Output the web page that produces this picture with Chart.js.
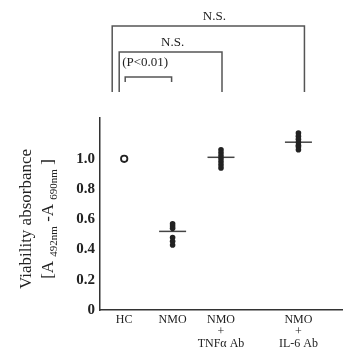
<!DOCTYPE html>
<html>
<head>
<meta charset="utf-8">
<script src="https://cdn.jsdelivr.net/npm/chart.js@4/dist/chart.umd.min.js"></script>
<style>
  html, body { margin: 0; padding: 0; background: #ffffff; overflow: hidden; }
  canvas { display: block; }
</style>
</head>
<body>
<canvas id="c" width="345" height="354" style="width:345px;height:354px"></canvas>
<script>
// ---- data ----
const categories = ['HC', 'NMO', 'NMO+TNFα Ab', 'NMO+IL-6 Ab'];
const categoryLabels = [['HC'], ['NMO'], ['NMO', '+', 'TNFα Ab'], ['NMO', '+', 'IL-6 Ab']];
const categoryX = [1, 3, 5, 8.2];
const hcValues = [1.0];
const nmoValues = [0.57, 0.555, 0.54, 0.48, 0.455, 0.43];
const tnfValues = [1.06, 1.04, 1.02, 1.0, 0.98, 0.96, 0.94];
const il6Values = [1.17, 1.15, 1.13, 1.11, 1.09, 1.08, 1.06];
const meanValues = [null, 0.52, 1.01, 1.11];
const yTickValues = [0, 0.2, 0.4, 0.6, 0.8, 1.0];
const yTickLabels = ['0', '0.2', '0.4', '0.6', '0.8', '1.0'];
const sigLabels = ['N.S.', 'N.S.', '(P<0.01)'];

const pts = (xi, vals) => vals.map(v => ({ x: categoryX[xi], y: v }));
const meanPts = meanValues.map((v, i) => v == null ? null : { x: categoryX[i], y: v }).filter(p => p);

const SERIF = '"Liberation Serif", "DejaVu Serif", serif';

const bracketPlugin = {
  id: 'brackets',
  afterDraw(chart) {
    const ctx = chart.ctx;
    const xs = chart.scales.x;
    const px = i => xs.getPixelForValue(categoryX[i]);
    const top = chart.chartArea.top;
    ctx.save();
    ctx.strokeStyle = '#555';
    ctx.lineWidth = 1.5;
    ctx.fillStyle = '#222';
    ctx.textAlign = 'center';
    ctx.textBaseline = 'middle';
    const bracket = (x1, x2, yTop, yBot) => {
      ctx.beginPath();
      ctx.moveTo(x1, yBot); ctx.lineTo(x1, yTop); ctx.lineTo(x2, yTop); ctx.lineTo(x2, yBot);
      ctx.stroke();
    };
    bracket(px(0) - 12, px(3) + 6, top - 92, top - 26);
    bracket(px(0) - 5, px(2) + 1, top - 66, top - 26);
    bracket(px(0) + 1, px(1) - 1, top - 41, top - 36);
    ctx.font = '13px ' + SERIF;
    ctx.fillText(sigLabels[0], (px(0) + px(3)) / 2 + 3, top - 101);
    ctx.fillText(sigLabels[1], (px(0) + px(2)) / 2, top - 75);
    ctx.textAlign = 'left';
    ctx.fillText(sigLabels[2], px(0) - 2, top - 55);
    ctx.restore();
  }
};

const yTitlePlugin = {
  id: 'ytitle',
  afterDraw(chart) {
    const ctx = chart.ctx;
    const cy = 219;
    ctx.save();
    ctx.fillStyle = '#222';
    ctx.save();
    ctx.translate(27, cy);
    ctx.rotate(-Math.PI / 2);
    ctx.font = '17px ' + SERIF;
    ctx.textAlign = 'center';
    ctx.textBaseline = 'middle';
    ctx.fillText('Viability absorbance', 0, 0);
    ctx.restore();
    const segs = [
      { t: '[A ', sub: false }, { t: '492nm', sub: true },
      { t: ' -A ', sub: false }, { t: '690nm', sub: true }, { t: ' ]', sub: false }
    ];
    const bigF = '17px ' + SERIF, smallF = '11px ' + SERIF;
    let total = 0;
    segs.forEach(s => { ctx.font = s.sub ? smallF : bigF; s.w = ctx.measureText(s.t).width; total += s.w; });
    ctx.save();
    ctx.translate(49, cy);
    ctx.rotate(-Math.PI / 2);
    ctx.textAlign = 'left';
    ctx.textBaseline = 'middle';
    let x = -total / 2;
    segs.forEach(s => {
      ctx.font = s.sub ? smallF : bigF;
      ctx.fillText(s.t, x, s.sub ? 5 : 0);
      x += s.w;
    });
    ctx.restore();
    ctx.restore();
  }
};

new Chart(document.getElementById('c'), {
  type: 'scatter',
  data: {
    datasets: [
      { label: categories[0], data: pts(0, hcValues), pointStyle: 'circle', pointRadius: 3.2,
        backgroundColor: '#ffffff', borderColor: '#222', borderWidth: 1.8 },
      { label: categories[1], data: pts(1, nmoValues), pointRadius: 2.8,
        backgroundColor: '#222', borderColor: '#222', borderWidth: 0 },
      { label: categories[2], data: pts(2, tnfValues), pointRadius: 2.8,
        backgroundColor: '#222', borderColor: '#222', borderWidth: 0 },
      { label: categories[3], data: pts(3, il6Values), pointRadius: 2.8,
        backgroundColor: '#222', borderColor: '#222', borderWidth: 0 },
      { label: 'mean', data: meanPts, pointStyle: 'line', pointRadius: 13.5,
        borderColor: '#444', borderWidth: 1.5, backgroundColor: '#444' }
    ]
  },
  options: {
    responsive: false,
    maintainAspectRatio: false,
    devicePixelRatio: 1,
    animation: false,
    events: [],
    layout: { autoPadding: false, padding: { top: 118, right: 3, left: 0, bottom: 0 } },
    plugins: { legend: { display: false }, tooltip: { enabled: false }, title: { display: false } },
    scales: {
      x: {
        type: 'linear', min: 0, max: 10,
        afterFit: s => { s.height = 44; s.paddingLeft = 0; s.paddingRight = 0; },
        afterBuildTicks: s => { s.ticks = categoryX.map(v => ({ value: v })); },
        grid: { display: true, drawOnChartArea: false, drawTicks: false },
        border: { display: true, color: '#333', width: 1.5 },
        ticks: {
          autoSkip: false, maxRotation: 0, padding: 4, color: '#222',
          font: { family: SERIF, size: 12, lineHeight: 1.0 },
          callback: (v) => { const i = categoryX.indexOf(v); return i >= 0 ? categoryLabels[i] : ''; }
        }
      },
      y: {
        type: 'linear', min: 0, max: 1.27,
        afterFit: s => { s.width = 100; s.paddingTop = 0; s.paddingBottom = 0; },
        afterBuildTicks: s => { s.ticks = yTickValues.map(v => ({ value: v })); },
        grid: { display: true, drawOnChartArea: false, drawTicks: false },
        border: { display: true, color: '#333', width: 1.5 },
        ticks: {
          padding: 5, color: '#222',
          font: { family: SERIF, size: 15, weight: 'bold' },
          callback: (v) => { const i = yTickValues.indexOf(v); return i >= 0 ? yTickLabels[i] : ''; }
        }
      }
    }
  },
  plugins: [bracketPlugin, yTitlePlugin]
});
</script>
</body>
</html>
